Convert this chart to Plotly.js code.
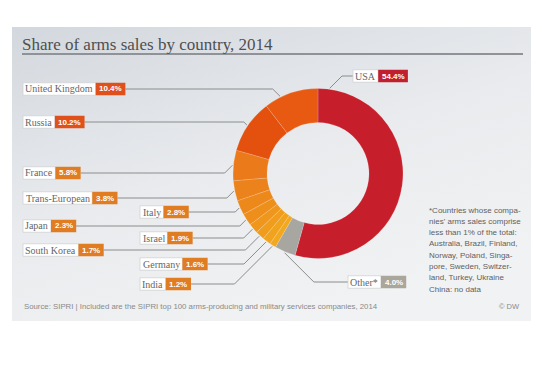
<!DOCTYPE html>
<html><head><meta charset="utf-8">
<script src="https://cdn.plot.ly/plotly-3.0.1.min.js"></script>
<style>html,body{margin:0;padding:0;background:#fff;}#chart{width:542px;height:383px;}</style>
</head><body><div id="chart"></div>
<script>
// ---- data ----
const countries = ['USA','Other*','India','Germany','South Korea','Israel','Japan','Italy','Trans-European','France','Russia','United Kingdom'];
const shares = [54.4, 4.0, 1.2, 1.6, 1.7, 1.9, 2.3, 2.8, 3.8, 5.8, 10.2, 10.4];
const sliceColors = ['#c61f2b','#a8a6a1','#f2a91f','#f1a31e','#f09d1d','#ef961c','#ee8f1c','#ed891b','#ec821b','#eb7a1a','#e4510f','#e85a12'];
const badgeColors = ['#c0202d','#aaa69c','#e07c22','#e07c22','#e07c22','#e07c22','#e07c22','#e07c22','#e07c22','#e07c22','#e0501a','#e0501a'];
// label placement (pixels) and leader style
const labelX = [353, 348, 140, 140, 23, 140, 23, 140, 23, 23, 23, 23];
const labelY = [76, 282, 284, 264, 250, 238, 226, 212, 198, 173, 122, 89];
const labelSide = ['right','right','left','left','left','left','left','left','left','left','left','left'];
const pointerFrac = [0.04, 0.5, 0.5, 0.5, 0.5, 0.5, 0.5, 0.5, 0.5, 0.5, 0.5, 0.3];
const footnoteLines = ["*Countries whose compa-","nies' arms sales comprise","less than 1% of the total:","Australia, Brazil, Finland,","Norway, Poland, Singa-","pore, Sweden, Switzer-","land, Turkey, Ukraine","China: no data"];
const titleText = 'Share of arms sales by country, 2014';
const sourceText = 'Source: SIPRI | Included are the SIPRI top 100 arms-producing and military services companies, 2014';

// ---- geometry helpers ----
const W = 542, H = 383;
const cx = 318, cy = 173.5, R = 85;
const px = x => x / W, py = y => 1 - y / H;
const ctx = document.createElement('canvas').getContext('2d');
function tw(text, font){ ctx.font = font; return ctx.measureText(text).width; }
const nameFont = '10px "Liberation Serif"';
const badgeFont = 'bold 8px "Liberation Sans"';
const padN = 2.6, padB = 3.5, boxH = 12.5;

const total = shares.reduce((a,b)=>a+b,0);
const shapes = [], annotations = [];

// title underline
shapes.push({type:'line', xref:'paper', yref:'paper', x0:px(22), x1:px(523), y0:py(54), y1:py(54), line:{color:'#8f9398', width:2}});

let cum = 0;
countries.forEach((name, i) => {
  const ang = (cum + pointerFrac[i]*shares[i]) / total * 2*Math.PI;
  cum += shares[i];
  const ex = cx + (R+1)*Math.sin(ang), ey = cy - (R+1)*Math.cos(ang);
  const pct = shares[i].toFixed(1) + '%';
  const wN = tw(name, nameFont) + 2*padN;
  const wB = tw(pct, badgeFont) + 2*padB;
  const x0 = labelX[i], y = labelY[i];
  // leader line
  let sx, elx;
  if (labelSide[i] === 'left') { sx = x0 + wN + wB; elx = ex - Math.abs(y - ey); }
  else { sx = x0; elx = ex + Math.abs(y - ey); }
  shapes.push({type:'path', xref:'paper', yref:'paper', layer:'above',
    path:`M ${px(sx)} ${py(y)} L ${px(elx)} ${py(y)} L ${px(ex)} ${py(ey)}`,
    line:{color:'#8c8c8c', width:1}});
  // boxes
  shapes.push({type:'rect', xref:'paper', yref:'paper', layer:'above',
    x0:px(x0), x1:px(x0+wN), y0:py(y-boxH/2), y1:py(y+boxH/2),
    fillcolor:'#ffffff', line:{color:'#d2d2d2', width:0.8}});
  shapes.push({type:'rect', xref:'paper', yref:'paper', layer:'above',
    x0:px(x0+wN), x1:px(x0+wN+wB), y0:py(y-boxH/2), y1:py(y+boxH/2),
    fillcolor:badgeColors[i], line:{width:0}});
  annotations.push({xref:'paper', yref:'paper', x:px(x0+wN/2), y:py(y), xanchor:'center', yanchor:'middle',
    text:name, showarrow:false, font:{family:'Liberation Serif, serif', size:10, color:'#666666'}});
  annotations.push({xref:'paper', yref:'paper', x:px(x0+wN+wB/2), y:py(y), xanchor:'center', yanchor:'middle',
    text:'<b>'+pct+'</b>', showarrow:false, font:{family:'Liberation Sans, Arial, sans-serif', size:8, color:'#ffffff'}});
});

footnoteLines.forEach((t, k) => {
  annotations.push({xref:'paper', yref:'paper', x:px(427), y:py(210 + k*11.3), xanchor:'left', yanchor:'middle',
    text:t, showarrow:false, font:{family:'Liberation Sans, Arial, sans-serif', size:8, color:'#5f5f5f'}});
});
annotations.push({xref:'paper', yref:'paper', x:px(22), y:py(306), xanchor:'left', yanchor:'middle',
  text:sourceText, showarrow:false, font:{family:'Liberation Sans, Arial, sans-serif', size:7.8, color:'#8a8a8a'}});
annotations.push({xref:'paper', yref:'paper', x:px(522), y:py(306), xanchor:'right', yanchor:'middle',
  text:'© DW', showarrow:false, font:{family:'Liberation Sans, Arial, sans-serif', size:7.5, color:'#8a8a8a'}});

// panel background (gradient) as SVG image
const svgBg = `<svg xmlns="http://www.w3.org/2000/svg" width="519" height="294" viewBox="0 0 519 294"><defs><linearGradient id="g" x1="0" y1="0" x2="0.55" y2="1"><stop offset="0" stop-color="#d3d8de"/><stop offset="0.55" stop-color="#e9ebee"/><stop offset="1" stop-color="#f1f2f3"/></linearGradient></defs><rect width="519" height="294" fill="url(#g)"/></svg>`;
const images = [{source:'data:image/svg+xml;charset=utf-8,' + encodeURIComponent(svgBg),
  xref:'paper', yref:'paper', x:px(12), y:py(27), sizex:px(531)-px(12), sizey:py(27)-py(321),
  xanchor:'left', yanchor:'top', sizing:'stretch', layer:'below'}];

const trace = {
  type:'pie', values:shares, labels:countries, sort:false, direction:'clockwise', rotation:0,
  hole:0.6, textinfo:'none', hoverinfo:'label+percent', showlegend:false,
  marker:{colors:sliceColors, line:{color:'rgba(255,255,255,0.2)', width:0.8}},
  domain:{x:[px(cx-R), px(cx+R)], y:[py(cy+R), py(cy-R)]}
};

const layout = {
  width:W, height:H, margin:{l:0,r:0,t:0,b:0}, paper_bgcolor:'#ffffff',
  title:{text:titleText, x:px(22), xanchor:'left', xref:'paper', yref:'paper', y:py(44), yanchor:'middle',
    font:{family:'Liberation Serif, serif', size:17, color:'#4f4f4f'}},
  shapes:shapes, annotations:annotations, images:images, showlegend:false
};
Plotly.newPlot('chart', [trace], layout, {staticPlot:true, displayModeBar:false});
</script></body></html>
